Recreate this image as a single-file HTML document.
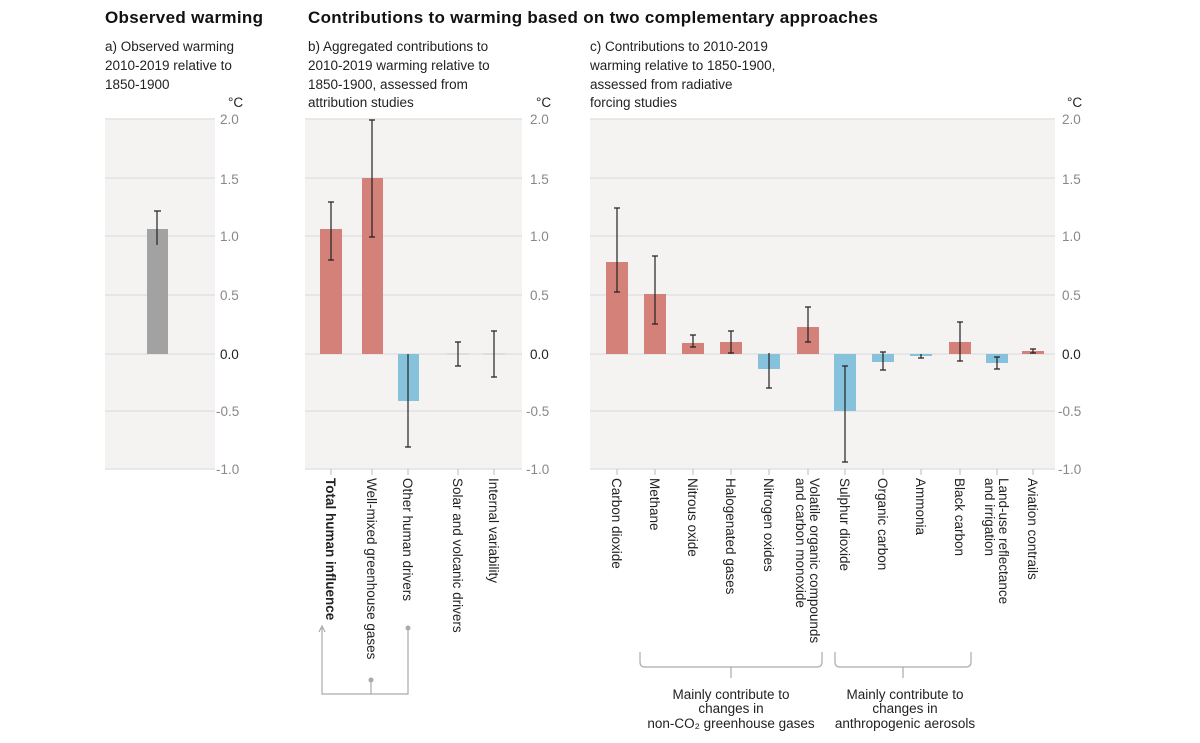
<!DOCTYPE html>
<html><head><meta charset="utf-8"><style>
body{margin:0;background:#fff;}
svg{display:block;font-family:"Liberation Sans",sans-serif;}
</style></head><body>
<svg width="1200" height="743" viewBox="0 0 1200 743" xmlns="http://www.w3.org/2000/svg">
<!-- titles -->
<text x="105" y="23" font-size="17" font-weight="bold" fill="#111" textLength="158">Observed warming</text>
<text x="308" y="23" font-size="17" font-weight="bold" fill="#111" textLength="570">Contributions to warming based on two complementary approaches</text>
<g font-size="13.5" fill="#222">
<text x="105" y="51">a) Observed warming</text><text x="105" y="70">2010-2019 relative to</text><text x="105" y="89">1850-1900</text>
<text x="308" y="51">b) Aggregated contributions to</text><text x="308" y="70">2010-2019 warming relative to</text><text x="308" y="89">1850-1900, assessed from</text><text x="308" y="107">attribution studies</text>
<text x="590" y="51">c) Contributions to 2010-2019</text><text x="590" y="70">warming relative to 1850-1900,</text><text x="590" y="89">assessed from radiative</text><text x="590" y="107">forcing studies</text>
<text x="228" y="107">°C</text><text x="536" y="107">°C</text><text x="1067" y="107">°C</text>
</g>
<!-- backgrounds -->
<rect x="105" y="119" width="110" height="350" fill="#f4f3f2"/>
<rect x="305" y="119" width="217" height="350" fill="#f4f3f2"/>
<rect x="590" y="119" width="465" height="350" fill="#f4f3f2"/>
<g stroke="#dedede" stroke-width="1.2">
<path d="M105 119H215M105 178H215M105 236H215M105 295H215M105 354H215M105 411H215M105 469H215"/>
<path d="M305 119H522M305 178H522M305 236H522M305 295H522M305 354H522M305 411H522M305 469H522"/>
<path d="M590 119H1055M590 178H1055M590 236H1055M590 295H1055M590 354H1055M590 411H1055M590 469H1055"/>
</g>
<g font-size="13.5" fill="#888">
<g id="tk">
<text x="220" y="124">2.0</text><text x="220" y="184">1.5</text><text x="220" y="241">1.0</text><text x="220" y="300">0.5</text><text x="220" y="359" fill="#222">0.0</text><text x="216" y="416">-0.5</text><text x="216" y="474">-1.0</text>
</g>
<use href="#tk" x="310"/>
<use href="#tk" x="842"/>
</g>
<!-- bars -->
<rect x="147" y="229" width="21" height="125" fill="#a2a2a2"/>
<g fill="#d4817a">
<rect x="320" y="229" width="22" height="125"/><rect x="362" y="178" width="21" height="176"/>
<rect x="606" y="262" width="22" height="92"/><rect x="644" y="294" width="22" height="60"/>
<rect x="682" y="343" width="22" height="11"/><rect x="720" y="342" width="22" height="12"/>
<rect x="797" y="327" width="22" height="27"/><rect x="949" y="342" width="22" height="12"/>
<rect x="1022" y="351" width="22" height="3"/>
</g>
<g fill="#86c2dc">
<rect x="398" y="354" width="21" height="47"/>
<rect x="758" y="354" width="22" height="15"/><rect x="834" y="354" width="22" height="57"/>
<rect x="872" y="354" width="22" height="8"/><rect x="910" y="354" width="22" height="2"/>
<rect x="986" y="354" width="22" height="9"/>
</g>
<path d="M447 354H469M483 354H505" stroke="#ccc"/>
<!-- error bars -->
<g stroke="#222" stroke-width="1.2" fill="none">
<path d="M157 211V245M154 211H161"/>
<path d="M331 202V260M328 202H334M328 260H334"/>
<path d="M372 120V237M369 120H375M369 237H375"/>
<path d="M408 354V447M405 447H411"/>
<path d="M458 342V366M455 342H461M455 366H461"/>
<path d="M494 331V377M491 331H497M491 377H497"/>
<path d="M617 208V292M614 208H620M614 292H620"/>
<path d="M655 256V324M652 256H658M652 324H658"/>
<path d="M693 335V347M690 335H696M690 347H696"/>
<path d="M731 331V353M728 331H734M728 353H734"/>
<path d="M769 353V388M766 388H772"/>
<path d="M808 307V342M805 307H811M805 342H811"/>
<path d="M845 366V462M842 366H848M842 462H848"/>
<path d="M883 352V370M880 352H886M880 370H886"/>
<path d="M921 354V358M918 358H924"/>
<path d="M960 322V361M957 322H963M957 361H963"/>
<path d="M997 357V369M994 357H1000M994 369H1000"/>
<path d="M1033 349V353M1030 349H1036M1030 353H1036"/>
</g>
<!-- x ticks -->
<g stroke="#bbb"><path d="M331 469V475M372 469V475M408 469V475M458 469V475M494 469V475M617 469V475M655 469V475M693 469V475M731 469V475M769 469V475M808 469V475M845 469V475M883 469V475M921 469V475M960 469V475M997 469V475M1033 469V475"/></g>
<!-- rotated labels -->
<g font-size="13.5" fill="#222">
<text transform="translate(326,478) rotate(90)" font-weight="bold">Total human influence</text>
<text transform="translate(367,478) rotate(90)">Well-mixed greenhouse gases</text>
<text transform="translate(403,478) rotate(90)">Other human drivers</text>
<text transform="translate(453,478) rotate(90)">Solar and volcanic drivers</text>
<text transform="translate(489,478) rotate(90)">Internal variability</text>
<text transform="translate(612,478) rotate(90)">Carbon dioxide</text>
<text transform="translate(650,478) rotate(90)">Methane</text>
<text transform="translate(688,478) rotate(90)">Nitrous oxide</text>
<text transform="translate(726,478) rotate(90)">Halogenated gases</text>
<text transform="translate(764,478) rotate(90)">Nitrogen oxides</text>
<text transform="translate(810,478) rotate(90)">Volatile organic compounds</text>
<text transform="translate(796,478) rotate(90)">and carbon monoxide</text>
<text transform="translate(840,478) rotate(90)">Sulphur dioxide</text>
<text transform="translate(878,478) rotate(90)">Organic carbon</text>
<text transform="translate(916,478) rotate(90)">Ammonia</text>
<text transform="translate(955,478) rotate(90)">Black carbon</text>
<text transform="translate(999,478) rotate(90)">Land-use reflectance</text>
<text transform="translate(985,478) rotate(90)">and irrigation</text>
<text transform="translate(1028,478) rotate(90)">Aviation contrails</text>
</g>
<!-- connectors -->
<g stroke="#aaa" stroke-width="1.2" fill="none">
<path d="M322 628V694H408V628M371 680V694M319 632L322 626L325 632"/>
<path d="M640 652V662Q640 667 645 667H817Q822 667 822 662V652M731 667V678"/>
<path d="M835 652V662Q835 667 840 667H966Q971 667 971 662V652M903 667V678"/>
</g>
<circle cx="371" cy="680" r="2.5" fill="#aaa"/><circle cx="408" cy="628" r="2.5" fill="#aaa"/>
<g font-size="13.5" fill="#222" text-anchor="middle">
<text x="731" y="699">Mainly contribute to</text><text x="731" y="713">changes in</text><text x="731" y="728">non-CO₂ greenhouse gases</text>
<text x="905" y="699">Mainly contribute to</text><text x="905" y="713">changes in</text><text x="905" y="728">anthropogenic aerosols</text>
</g>
</svg>
</body></html>
